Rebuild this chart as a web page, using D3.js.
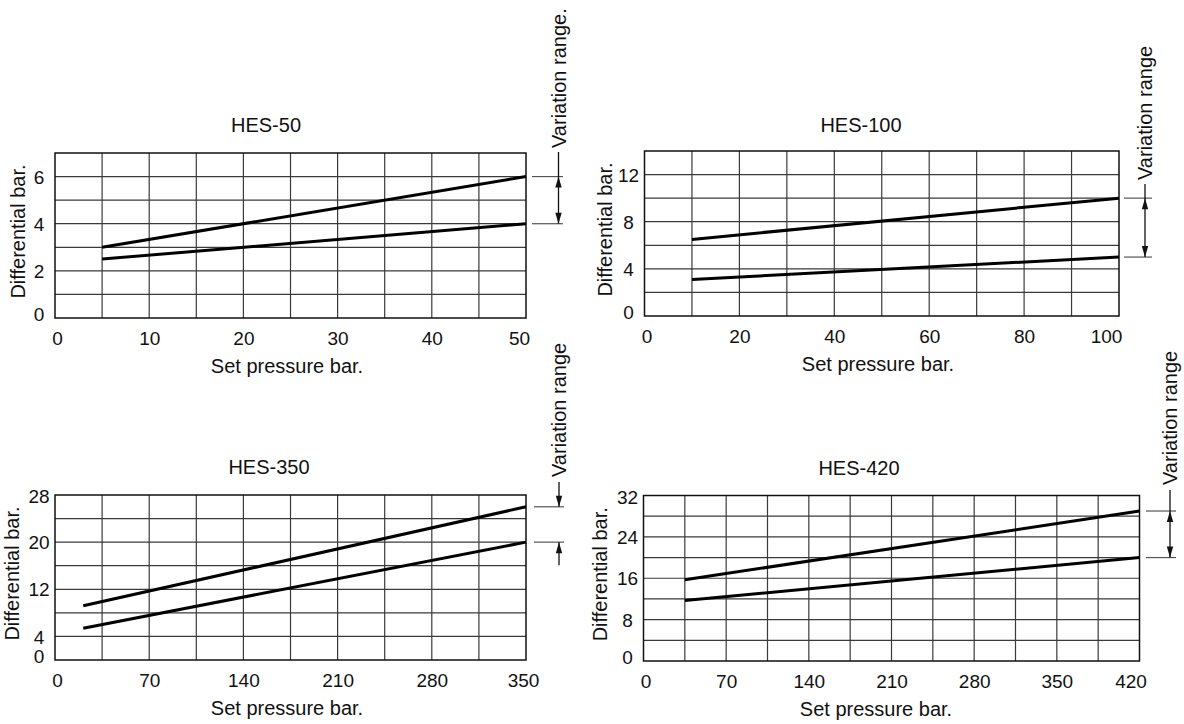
<!DOCTYPE html>
<html><head><meta charset="utf-8">
<script src="https://cdn.jsdelivr.net/npm/d3@7"></script>
<style>
body{margin:0;background:#fff}
svg{display:block}
text{font-family:"Liberation Sans",Arial,Helvetica,sans-serif;fill:#111}
</style>
</head><body>
<svg id="c" width="1184" height="724"></svg>
<script>
// ---------- data ----------
const titles = ["HES-50", "HES-100", "HES-350", "HES-420"];
const xMax = [50, 100, 350, 420];
const xGridStep = [5, 10, 35, 35];
const xTicks = [
  [0, 10, 20, 30, 40, 50],
  [0, 20, 40, 60, 80, 100],
  [0, 70, 140, 210, 280, 350],
  [0, 70, 140, 210, 280, 350, 420]
];
const yMax = [7, 14, 28, 32];
const yGridStep = [1, 2, 4, 4];
const yTicks = [
  [0, 2, 4, 6],
  [0, 4, 8, 12],
  [0, 4, 12, 20, 28],
  [0, 8, 16, 24, 32]
];
const setPressure = [[5, 50], [10, 100], [21, 350], [35, 420]];
const upperDiff = [[3, 6], [6.5, 10], [9.2, 26], [15.7, 29]];
const lowerDiff = [[2.5, 4], [3.1, 5], [5.4, 20], [11.7, 20]];
const rangeLabels = ["Variation range.", "Variation range", "Variation range", "Variation range"];
const xTitle = "Set pressure bar.";
const yTitle = "Differential bar.";

// ---------- layout (positions / styles only) ----------
const box = [
  {l: 55, r: 526, t: 153, b: 318},
  {l: 644.5, r: 1119, t: 151, b: 316},
  {l: 55, r: 526, t: 495, b: 660},
  {l: 643.5, r: 1139.5, t: 495.5, b: 661}
];
const titlePos = [{x: 266, y: 132}, {x: 861, y: 132}, {x: 269, y: 473.5}, {x: 859, y: 475}];
const xTitleX = [287, 878, 287, 876];
const yTitleX = [17.5, 605, 11.5, 600];
const lastLabelShift = [-7, -13, -3, -9];
const ann = [
  {x: 558.5, h: [532, 563], textY: 148, lead: 152, mode: "out"},
  {x: 1145, h: [1124, 1152], textY: 180, lead: 184, mode: "out"},
  {x: 559, h: [534, 564], textY: 477, lead: 482, mode: "in"},
  {x: 1170, h: [1146, 1176], textY: 485, lead: 490, mode: "out"}
];

const svg = d3.select("#c");
const FONT = '"Liberation Sans",Arial,sans-serif';

function arrowHead(g, x, tipY, dir) { // dir -1: points up, +1: points down
  const baseY = tipY - dir * 11;
  g.append("path")
    .attr("d", `M${x},${tipY} L${x - 3.2},${baseY} L${x + 3.2},${baseY} Z`)
    .attr("fill", "#111");
}

titles.forEach((t, i) => {
  const B = box[i];
  const x = d3.scaleLinear().domain([0, xMax[i]]).range([B.l, B.r]);
  const y = d3.scaleLinear().domain([0, yMax[i]]).range([B.b, B.t]);
  const g = svg.append("g");

  // grid
  g.selectAll(".vg").data(d3.range(xGridStep[i], xMax[i] - 1e-9, xGridStep[i])).join("line")
    .attr("x1", d => x(d)).attr("x2", d => x(d))
    .attr("y1", B.t).attr("y2", B.b)
    .attr("stroke", "#3a3a3a").attr("stroke-width", 1.2);
  g.selectAll(".hg").data(d3.range(yGridStep[i], yMax[i] - 1e-9, yGridStep[i])).join("line")
    .attr("y1", d => y(d)).attr("y2", d => y(d))
    .attr("x1", B.l).attr("x2", B.r)
    .attr("stroke", "#3a3a3a").attr("stroke-width", 1.2);
  g.append("rect")
    .attr("x", x(0)).attr("y", y(yMax[i]))
    .attr("width", x(xMax[i]) - x(0)).attr("height", y(0) - y(yMax[i]))
    .attr("fill", "none").attr("stroke", "#111").attr("stroke-width", 1.5);

  // axes (labels only)
  const ax = g.append("g").attr("transform", `translate(0,${B.b})`)
    .call(d3.axisBottom(x).tickValues(xTicks[i]).tickFormat(d3.format("d")).tickSize(0).tickPadding(13.5));
  ax.select(".domain").remove();
  ax.selectAll("text").attr("font-size", 19).attr("fill", "#111").style("font-family", FONT);
  ax.selectAll(".tick").filter((d, k, n) => k === n.length - 1)
    .select("text").attr("dx", lastLabelShift[i]);
  ax.selectAll(".tick").filter(d => d === 0).select("text").attr("dx", 2);

  const ay = g.append("g").attr("transform", `translate(${B.l},0)`)
    .call(d3.axisLeft(y).tickValues(yTicks[i]).tickFormat(d3.format("d")).tickSize(0));
  ay.select(".domain").remove();
  ay.selectAll("text").attr("font-size", 19).attr("fill", "#111")
    .attr("text-anchor", "middle").attr("x", -16)
    .attr("dy", d => d === 0 ? "0.15em" : (d === yMax[i] ? "0.42em" : "0.35em"))
    .style("font-family", FONT);

  // titles
  g.append("text").attr("x", titlePos[i].x).attr("y", titlePos[i].y)
    .attr("text-anchor", "middle").attr("font-size", 20).text(t);
  g.append("text").attr("x", xTitleX[i]).attr("y", B.b + 55)
    .attr("text-anchor", "middle").attr("font-size", 20).text(xTitle);
  g.append("text")
    .attr("transform", `translate(${yTitleX[i]},${(B.t + B.b) / 2 - 4}) rotate(-90)`)
    .attr("text-anchor", "middle").attr("dy", "0.35em").attr("font-size", 20).text(yTitle);

  // data lines
  const line = d3.line().x(d => x(d[0])).y(d => y(d[1]));
  const up = setPressure[i].map((p, k) => [p, upperDiff[i][k]]);
  const lo = setPressure[i].map((p, k) => [p, lowerDiff[i][k]]);
  [up, lo].forEach(s => g.append("path").attr("d", line(s))
    .attr("fill", "none").attr("stroke", "#000").attr("stroke-width", 3));

  // variation range annotation
  const A = ann[i];
  const yTop = y(upperDiff[i][1]);
  const yBot = y(lowerDiff[i][1]);
  [yTop, yBot].forEach(yy => g.append("line")
    .attr("x1", A.h[0]).attr("x2", A.h[1]).attr("y1", yy).attr("y2", yy)
    .attr("stroke", "#555").attr("stroke-width", 1.2));
  if (A.mode === "out") {
    g.append("line").attr("x1", A.x).attr("x2", A.x).attr("y1", A.lead).attr("y2", yBot)
      .attr("stroke", "#111").attr("stroke-width", 1.3);
    arrowHead(g, A.x, yTop, -1);
    arrowHead(g, A.x, yBot, 1);
  } else {
    g.append("line").attr("x1", A.x).attr("x2", A.x).attr("y1", A.lead).attr("y2", yTop)
      .attr("stroke", "#111").attr("stroke-width", 1.3);
    g.append("line").attr("x1", A.x).attr("x2", A.x).attr("y1", yBot).attr("y2", yBot + 23)
      .attr("stroke", "#111").attr("stroke-width", 1.3);
    arrowHead(g, A.x, yTop, 1);
    arrowHead(g, A.x, yBot, -1);
  }
  g.append("text")
    .attr("transform", `translate(${A.x},${A.textY}) rotate(-90)`)
    .attr("text-anchor", "start").attr("dy", "0.35em").attr("font-size", 20)
    .text(rangeLabels[i]);
});
</script>
</body></html>
